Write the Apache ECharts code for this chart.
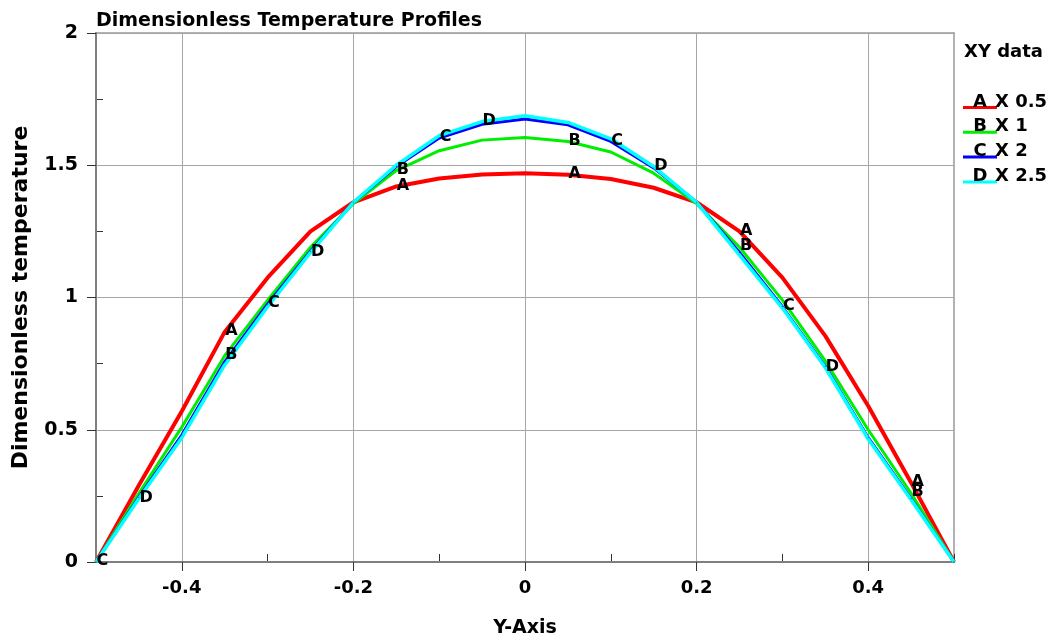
<!DOCTYPE html>
<html>
<head>
<meta charset="utf-8">
<script src="https://cdn.jsdelivr.net/npm/echarts@6/dist/echarts.min.js"></script>
<style>
html,body{margin:0;padding:0;background:#fff;}
#chart{width:1061px;height:643px;}
</style>
</head>
<body>
<div id="chart"></div>
<script>
// ---- data ----
const xValues = [-0.5,-0.45,-0.4,-0.35,-0.3,-0.25,-0.2,-0.15,-0.1,-0.05,0,0.05,0.1,0.15,0.2,0.25,0.3,0.35,0.4,0.45,0.5];
const seriesA = [0,0.29,0.57,0.87,1.075,1.25,1.36,1.42,1.45,1.465,1.47,1.464,1.448,1.415,1.36,1.25,1.075,0.855,0.59,0.30,0];
const seriesB = [0,0.26,0.51,0.78,0.99,1.19,1.355,1.48,1.555,1.595,1.605,1.59,1.55,1.47,1.355,1.19,0.99,0.76,0.50,0.26,0];
const seriesC = [0,0.245,0.48,0.757,0.975,1.175,1.36,1.495,1.603,1.655,1.675,1.653,1.59,1.49,1.36,1.17,0.965,0.74,0.47,0.24,0];
const seriesD = [0,0.24,0.47,0.745,0.965,1.17,1.36,1.5,1.612,1.665,1.687,1.662,1.60,1.495,1.36,1.16,0.96,0.735,0.465,0.235,0];
const seriesNames = ['X 0.5','X 1','X 2','X 2.5'];
const seriesLetters = ['A','B','C','D'];
const labelIndices = [[3,7,11,15,19],[3,7,11,15,19],[0,4,8,12,16],[1,5,9,13,17]];
const xTickLabels = [-0.4,-0.2,0,0.2,0.4];
const yTickLabels = [0,0.5,1,1.5,2];
const chartTitle = 'Dimensionless Temperature Profiles';
const xAxisName = 'Y-Axis';
const yAxisName = 'Dimensionless temperature';
const legendTitle = 'XY data';

// ---- style ----
const colors = ['#ff0000','#00ee00','#0000ff','#00ffff'];
const widths = [4,3,3,3.5];
const FONT = 'DejaVu Sans';
const gridColor = '#a6a6a6';
const axisColor = '#7f7f7f';
const tickColor = '#333333';

const allSeries = [seriesA,seriesB,seriesC,seriesD];

const chart = echarts.init(document.getElementById('chart'), null, {renderer:'canvas'});

const series = allSeries.map((ys, s) => ({
  name: seriesNames[s],
  type: 'line',
  xAxisIndex: 0,
  yAxisIndex: 0,
  showSymbol: true,
  symbol: 'circle',
  symbolSize: 1,
  itemStyle: {color: colors[s]},
  lineStyle: {color: colors[s], width: widths[s]},
  emphasis: {disabled: true},
  z: 3,
  data: xValues.map((x, i) => ({
    value: [x, ys[i]],
    label: {
      show: labelIndices[s].includes(i),
      position: 'right',
      distance: 0,
      offset: [0, -1],
      formatter: seriesLetters[s],
      color: '#000',
      fontFamily: FONT,
      fontWeight: 'bold',
      fontSize: 16
    }
  }))
}));

// legend drawn as graphic
const legendGraphics = [{
  type: 'text', left: 964, top: 43,
  style: {text: legendTitle, fill: '#000', font: 'bold 18px "' + FONT + '"'}
}];
seriesNames.forEach((n, s) => {
  const yLine = 106 + s * 24.8;
  legendGraphics.push({
    type: 'rect', shape: {x: 963, y: yLine, width: 34, height: 3},
    style: {fill: colors[s]}
  });
  legendGraphics.push({
    type: 'text', x: 980, y: yLine + 5,
    style: {text: seriesLetters[s], fill: '#000', font: 'bold 18px "' + FONT + '"', align: 'center', verticalAlign: 'bottom'}
  });
  legendGraphics.push({
    type: 'text', x: 995, y: yLine + 5,
    style: {text: n, fill: '#000', font: 'bold 18px "' + FONT + '"', align: 'left', verticalAlign: 'bottom'}
  });
});

const baseX = {type: 'value', min: -0.5, max: 0.5, gridIndex: 0};
const baseY = {type: 'value', min: 0, max: 2, gridIndex: 0};

const option = {
  animation: false,
  backgroundColor: '#fff',
  title: {
    text: chartTitle, left: 91, top: 7,
    textStyle: {fontFamily: FONT, fontWeight: 'bold', fontSize: 19, color: '#000'}
  },
  grid: {left: 96, top: 33, width: 858, height: 530, containLabel: false},
  xAxis: [
    Object.assign({}, baseX, {
      position: 'bottom',
      name: xAxisName, nameLocation: 'middle', nameGap: 57,
      nameTextStyle: {fontFamily: FONT, fontWeight: 'bold', fontSize: 19, color: '#000'},
      axisLine: {show: true, onZero: false, lineStyle: {color: axisColor, width: 2}},
      axisTick: {show: true, inside: false, length: 9, customValues: xTickLabels, lineStyle: {color: tickColor, width: 1}},
      axisLabel: {show: true, customValues: xTickLabels, margin: 17, fontFamily: FONT, fontWeight: 'bold', fontSize: 18, color: '#000',
        formatter: v => String(v)},
      splitLine: {show: true, lineStyle: {color: gridColor, width: 1}},
      z: 2
    }),
    Object.assign({}, baseX, {
      position: 'bottom', interval: 0.1,
      axisLine: {show: false, onZero: false},
      axisTick: {show: true, inside: true, length: 8, lineStyle: {color: tickColor, width: 1}},
      axisLabel: {show: false},
      splitLine: {show: false}
    }),
    Object.assign({}, baseX, {
      position: 'top',
      axisLine: {show: true, onZero: false, lineStyle: {color: '#999', width: 1.5}},
      axisTick: {show: true, inside: true, length: 9, customValues: xTickLabels, lineStyle: {color: tickColor, width: 1}},
      axisLabel: {show: false},
      splitLine: {show: false}
    })
  ],
  yAxis: [
    Object.assign({}, baseY, {
      position: 'left',
      name: yAxisName, nameLocation: 'middle', nameGap: 64,
      nameTextStyle: {fontFamily: FONT, fontWeight: 'bold', fontSize: 22, color: '#000'},
      axisLine: {show: true, onZero: false, lineStyle: {color: axisColor, width: 2}},
      axisTick: {show: true, inside: false, length: 9, customValues: yTickLabels, lineStyle: {color: tickColor, width: 1}},
      axisLabel: {show: true, customValues: yTickLabels, margin: 18, fontFamily: FONT, fontWeight: 'bold', fontSize: 19, color: '#000',
        formatter: v => String(v)},
      splitLine: {show: true, lineStyle: {color: gridColor, width: 1}},
      z: 2
    }),
    Object.assign({}, baseY, {
      position: 'left', interval: 0.25,
      axisLine: {show: false, onZero: false},
      axisTick: {show: true, inside: true, length: 7, lineStyle: {color: tickColor, width: 1}},
      axisLabel: {show: false},
      splitLine: {show: false}
    }),
    Object.assign({}, baseY, {
      position: 'right', interval: 0.5,
      axisLine: {show: true, onZero: false, lineStyle: {color: '#999', width: 1.5}},
      axisTick: {show: true, inside: true, length: 8, lineStyle: {color: tickColor, width: 1}},
      axisLabel: {show: false},
      splitLine: {show: false}
    })
  ],
  graphic: legendGraphics,
  series: series
};

chart.setOption(option);
</script>
</body>
</html>
